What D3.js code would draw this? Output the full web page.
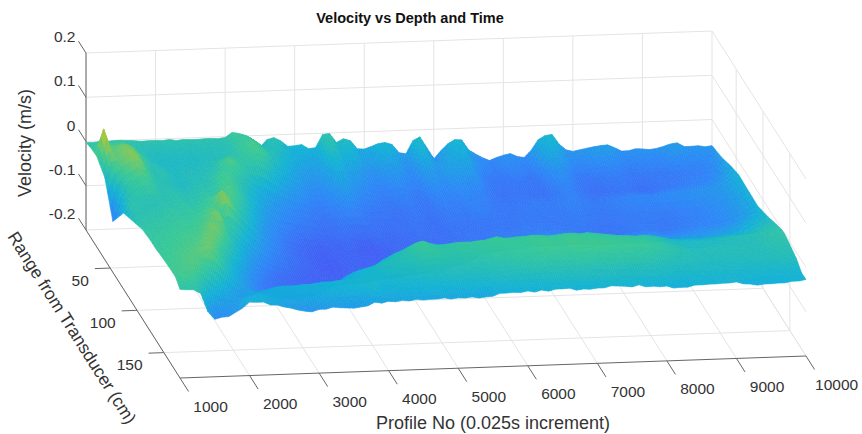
<!DOCTYPE html>
<html lang="en">
    <head>
        <meta charset="utf-8">
        <title>Velocity vs Depth and Time</title>
        <script type="text/javascript" src="https://d3js.org/d3.v7.min.js"></script>
        <style type="text/css">
            body { margin: 0; background: #fff; }
            text { font-family: "Liberation Sans", Arial, sans-serif; fill: #333; }
        </style>
    </head>
    <body>
        <script type="text/javascript">

            //Width and height
            var w = 862;
            var h = 434;

            var profileTicks = [1000, 2000, 3000, 4000, 5000, 6000, 7000, 8000, 9000, 10000];
            var rangeTicks = [50, 100, 150];
            var velocityTicks = [-0.2, -0.1, 0, 0.1, 0.2];

            //Profile numbers of the surface columns
            var profiles = [];
            for (var p = 1000; p <= 10000; p += 100) profiles.push(p);

            //Range (cm) of the surface rows
            var ranges = [5, 15, 25, 40, 55, 75, 90, 110, 125, 135, 140, 150, 162, 172, 180];

            //Velocity in mm/s: one line per range, one value per profile
            var velocity = [
                [-2,-3,-1,-2,0,0,-1,-2,-4,-3, -3,-4,-2,-5,-3,-4,-4,-3,-3,-4, -2,9,6,1,-9,-27,-10,-6,-14,-27, -26,-24,-34,-32,-3,-1,-22,-14,-19,-38, -39,-34,-28,-26,-31,-50,-53,-24,-16,-41, -67,-49,-34,-25,-26,-49,-59,-68,-75,-69, -64,-61,-68,-71,-55,-32,-23,-21,-43,-57, -61,-58,-55,-52,-50,-49,-56,-64,-64,-60, -61,-63,-61,-57,-52,-50,-59,-59,-58,-61,-59],
                [3,8,12,10,12,8,-5,-8,-12,-14, -15,-14,-16,-13,-15,-14,-13,-12,-11,-10, -6,5,8,12,2,-10,-12,-18,-25,-34, -38,-40,-44,-38,-12,-10,-30,-28,-34,-50, -54,-48,-44,-42,-48,-62,-64,-38,-30,-52, -58,-46,-40,-34,-36,-60,-70,-76,-80,-76, -73,-72,-76,-78,-66,-48,-40,-42,-58,-70, -73,-72,-70,-68,-68,-66,-72,-76,-76,-74, -74,-76,-75,-72,-70,-69,-72,-72,-70,-68,-55],
                [5,66,20,25,30,25,10,-2,-14,-18, -20,-18,-20,-18,-17,-16,-15,-14,-10,-6, -2,8,15,18,8,-8,-15,-28,-38,-48, -52,-55,-52,-44,-30,-32,-46,-50,-55,-66, -70,-66,-62,-60,-66,-74,-72,-55,-50,-62, -52,-48,-50,-50,-54,-72,-80,-84,-86,-84, -84,-84,-86,-86,-80,-70,-62,-64,-74,-82, -84,-85,-84,-82,-82,-80,-83,-85,-86,-85, -84,-85,-85,-83,-82,-80,-80,-78,-74,-68,-50],
                [-15,20,22,35,40,30,5,-8,-5,-10, -18,-15,-12,-14,-12,-10,-5,10,22,10, 2,-2,0,-8,-20,-35,-45,-52,-60,-68, -72,-70,-66,-60,-52,-55,-64,-70,-74,-78, -80,-80,-78,-76,-80,-84,-82,-72,-70,-74, -72,-68,-72,-74,-74,-82,-86,-88,-88,-86, -88,-88,-88,-90,-86,-82,-78,-78,-84,-88, -90,-90,-90,-88,-88,-86,-88,-90,-90,-88, -86,-84,-82,-80,-78,-76,-74,-72,-66,-55,-38],
                [-85,-30,5,8,18,10,-2,-8,-10,-14, -16,-14,-10,-8,-5,5,15,10,-2,-12, -22,-35,-45,-55,-60,-66,-72,-74,-78,-82, -84,-82,-78,-74,-72,-76,-82,-84,-84,-86, -88,-88,-86,-84,-86,-88,-86,-82,-80,-80, -82,-78,-76,-78,-80,-84,-84,-85,-84,-82, -82,-80,-80,-82,-80,-78,-76,-78,-80,-82, -82,-80,-78,-76,-74,-73,-72,-72,-72,-70, -68,-66,-65,-64,-62,-62,-60,-58,-52,-42,-30],
                [-28,0,-8,-8,-10,-6,-8,-4,-2,-6, -4,0,4,2,8,20,12,-2,-18,-35, -50,-62,-70,-76,-82,-86,-88,-90,-92,-94, -92,-90,-90,-92,-94,-92,-90,-92,-94,-92, -92,-90,-88,-88,-90,-92,-90,-88,-88,-86, -88,-86,-86,-86,-85,-86,-86,-84,-84,-84, -84,-85,-85,-84,-84,-82,-82,-84,-84,-85, -85,-84,-84,-83,-83,-82,-82,-84,-84,-83, -82,-80,-78,-76,-74,-70,-66,-62,-54,-44,-32],
                [-15,-4,-6,-2,-4,0,2,0,4,2, 6,10,18,45,30,8,-8,-25,-42,-58, -68,-76,-84,-90,-94,-98,-100,-102,-102,-100, -100,-98,-100,-104,-106,-104,-100,-98,-96,-96, -96,-94,-94,-92,-92,-90,-90,-88,-88,-86, -86,-86,-84,-84,-82,-82,-82,-80,-80,-78, -78,-80,-80,-82,-84,-86,-86,-88,-88,-88, -88,-86,-84,-82,-80,-82,-84,-84,-82,-80, -78,-76,-74,-74,-72,-70,-66,-60,-52,-44,-33],
                [2,2,4,4,6,6,10,8,12,16, 25,35,5,-5,-20,-35,-50,-62,-72,-80, -84,-90,-92,-96,-98,-102,-104,-106,-104,-102, -100,-100,-102,-100,-98,-100,-100,-98,-96,-94, -94,-92,-92,-90,-88,-86,-84,-84,-82,-80, -78,-76,-74,-72,-68,-66,-64,-62,-60,-58, -58,-58,-60,-60,-62,-62,-62,-60,-60,-60, -58,-58,-58,-60,-60,-60,-60,-60,-60,-58, -58,-56,-54,-52,-50,-46,-42,-36,-30,-24,-20],
                [6,8,8,10,12,14,14,16,22,35, 25,5,-15,-32,-50,-66,-78,-84,-90,-94, -96,-98,-100,-102,-102,-100,-100,-102,-100,-98, -98,-98,-96,-94,-94,-92,-92,-90,-88,-86, -86,-84,-82,-80,-76,-72,-66,-58,-48,-42, -40,-38,-38,-36,-36,-36,-38,-38,-38,-36, -36,-36,-38,-38,-40,-40,-40,-40,-38,-38, -38,-38,-38,-38,-36,-36,-34,-34,-34,-36, -36,-36,-34,-32,-30,-28,-24,-18,-14,-10,-8],
                [6,8,10,12,14,16,18,24,30,18, 0,-20,-38,-54,-68,-78,-86,-90,-92,-94, -96,-96,-94,-94,-92,-90,-90,-88,-88,-88, -86,-84,-82,-80,-80,-78,-76,-74,-72,-70, -66,-60,-50,-38,-25,-18,-10,-2,2,6, 2,2,4,4,6,6,4,4,6,8, 8,6,8,6,4,2,0,-2,-2,-4, -2,-4,-6,-10,-14,-16,-18,-18,-18,-16, -14,-14,-12,-10,-10,-8,-8,-6,-4,-2,-1],
                [8,10,12,14,16,18,20,30,22,4, -14,-32,-48,-62,-74,-82,-88,-88,-90,-90, -88,-86,-84,-84,-82,-80,-78,-76,-72,-66, -56,-42,-30,-22,-14,-8,0,8,12,6, 2,2,4,6,6,6,8,8,10,10, 10,10,10,12,12,12,10,10,12,12, 12,10,10,8,8,8,6,6,4,4, 2,0,-4,-10,-14,-18,-20,-20,-20,-18, -18,-16,-16,-14,-14,-12,-10,-6,-2,0,0],
                [10,12,14,18,20,22,30,26,8,-14, -32,-46,-58,-68,-76,-82,-86,-88,-88,-88, -86,-84,-80,-76,-66,-55,-44,-36,-30,-26, -22,-16,-12,-10,-8,-6,-2,2,6,4, 2,0,0,2,2,4,4,4,6,6, 8,8,8,10,12,14,14,12,14,16, 14,14,16,14,14,12,14,12,10,12, 8,6,2,-2,-6,-8,-10,-12,-10,-10, -10,-10,-10,-10,-10,-10,-10,-8,-7,-6,-6],
                [12,14,16,20,18,8,-8,-24,-38,-50, -56,-54,-50,-46,-42,-38,-36,-36,-36,-34, -34,-32,-30,-30,-28,-28,-26,-24,-22,-22, -24,-22,-20,-20,-18,-18,-16,-14,-14,-12, -12,-12,-12,-10,-10,-10,-8,-6,-6,-4, -2,0,0,0,2,2,2,2,2,4, 4,2,2,2,2,0,0,0,-2,-2, -6,-8,-10,-12,-12,-12,-14,-16,-16,-16, -16,-16,-16,-16,-16,-16,-16,-14,-12,-12,-14],
                [12,14,14,8,-16,-38,-50,-58,-56,-48, -40,-34,-32,-34,-36,-38,-40,-38,-36,-38, -38,-36,-34,-32,-32,-30,-30,-28,-26,-24, -34,-32,-32,-30,-30,-31,-28,-28,-29,-28, -26,-27,-26,-26,-24,-24,-22,-23,-22,-20, -20,-21,-20,-18,-18,-19,-18,-18,-17,-18, -18,-18,-19,-18,-20,-20,-21,-20,-22,-22, -22,-22,-24,-24,-23,-24,-24,-25,-24,-24, -24,-25,-26,-26,-25,-26,-26,-27,-28,-28,-28],
                [0,-1,-2,-11,-52,-70,-66,-65,-56,-47, -34,-35,-35,-42,-43,-48,-51,-56,-59,-61, -56,-56,-52,-54,-55,-56,-54,-52,-44,-47, -43,-45,-42,-44,-41,-43,-42,-42,-40,-43, -41,-42,-40,-43,-41,-40,-34,-34,-33,-34, -31,-34,-30,-33,-29,-29,-28,-33,-31,-32, -30,-30,-26,-27,-28,-30,-26,-31,-30,-32, -31,-36,-35,-35,-31,-31,-30,-30,-29,-29, -27,-32,-33,-36,-34,-34,-33,-33,-30,-30,-27]
            ];

            //Parula colormap stops
            var parula = ["#3E26A8", "#4752F4", "#2D87F7", "#12B1D6", "#37C897", "#ABC739", "#FEC338", "#F9FB14"];

            //Axis scales run 0 to 1 along each edge of the box
            var xScale = d3.scaleLinear().domain([1000, 10000]).range([0, 1]);
            var rScale = d3.scaleLinear().domain([5, 180]).range([0, 1]);
            var zScale = d3.scaleLinear().domain([-0.2, 0.2]).range([0, 1]);

            var colors = d3.scaleLinear()
                           .domain(parula.map(function(c, i) { return -0.155 + 0.29 * i / (parula.length - 1); }))
                           .range(parula)
                           .clamp(true);

            //Orthographic view, screen position of a point in the box
            function project(x, r, z) {
                var u = xScale(x), v = rScale(r), t = zScale(z);
                return [86 + 626 * u + 94 * v, 230 - 22 * u + 148 * v - 177 * t];
            }

            var svg = d3.select("body")
                        .append("svg")
                        .attr("width", w)
                        .attr("height", h)
                        .style("display", "block");

            var soft = svg.append("defs").append("filter").attr("id", "soft");
            soft.append("feGaussianBlur").attr("stdDeviation", 0.45);

            function addLine(g, a, b) {
                g.append("line")
                 .attr("x1", a[0]).attr("y1", a[1])
                 .attr("x2", b[0]).attr("y2", b[1]);
            }

            //Grid on the floor and the two walls
            var grid = svg.append("g").attr("stroke", "#e4e4e4").attr("stroke-width", 1);
            profileTicks.forEach(function(x) {
                addLine(grid, project(x, 5, -0.2), project(x, 180, -0.2));
                addLine(grid, project(x, 5, -0.2), project(x, 5, 0.2));
            });
            rangeTicks.forEach(function(r) {
                addLine(grid, project(1000, r, -0.2), project(10000, r, -0.2));
                addLine(grid, project(10000, r, -0.2), project(10000, r, 0.2));
            });
            velocityTicks.forEach(function(z) {
                addLine(grid, project(1000, 5, z), project(10000, 5, z));
                addLine(grid, project(10000, 5, z), project(10000, 180, z));
            });

            //Axes and tick marks
            var axes = svg.append("g").attr("stroke", "#666").attr("stroke-width", 1);
            addLine(axes, project(1000, 5, -0.2), project(1000, 5, 0.2));
            addLine(axes, project(1000, 5, -0.2), project(1000, 180, -0.2));
            addLine(axes, project(1000, 180, -0.2), project(10000, 180, -0.2));

            var labels = svg.append("g").attr("font-size", "15.5px");

            profileTicks.forEach(function(x) {
                var a = project(x, 180, -0.2);
                var b = project(x, 180 + 16, -0.2);
                addLine(axes, a, b);
                labels.append("text").text(x)
                      .attr("x", b[0] + 22).attr("y", b[1] + 20)
                      .attr("text-anchor", "middle");
            });
            rangeTicks.forEach(function(r) {
                var a = project(1000, r, -0.2);
                var b = project(1000 - 220, r, -0.2);
                addLine(axes, a, b);
                labels.append("text").text(r)
                      .attr("x", b[0] - 6).attr("y", b[1] + 17)
                      .attr("text-anchor", "end");
            });
            velocityTicks.forEach(function(z) {
                var a = project(1000, 5, z);
                var b = project(1000, 5 - 14, z);
                addLine(axes, a, b);
                labels.append("text").text(z)
                      .attr("x", b[0] - 3).attr("y", b[1] + 1)
                      .attr("text-anchor", "end");
            });

            //Each grid cell is cut into smaller pieces so the colour runs smoothly across it
            var pieces = 3;

            function surfaceValue(i, j) {
                var i0 = Math.min(Math.floor(i), ranges.length - 2), j0 = Math.min(Math.floor(j), profiles.length - 2);
                var a = i - i0, b = j - j0;
                return ((1 - a) * (1 - b) * velocity[i0][j0] + (1 - a) * b * velocity[i0][j0 + 1]
                      + a * (1 - b) * velocity[i0 + 1][j0] + a * b * velocity[i0 + 1][j0 + 1]) / 1000;
            }

            function surfacePoint(i, j) {
                var i0 = Math.min(Math.floor(i), ranges.length - 2), j0 = Math.min(Math.floor(j), profiles.length - 2);
                var r = ranges[i0] + (i - i0) * (ranges[i0 + 1] - ranges[i0]);
                var x = profiles[j0] + (j - j0) * (profiles[j0 + 1] - profiles[j0]);
                return project(x, r, surfaceValue(i, j));
            }

            //Surface, painted from the far side to the near side
            var cells = [];
            for (var i = 0; i < (ranges.length - 1) * pieces; i++) {
                for (var j = (profiles.length - 1) * pieces - 1; j >= 0; j--) {
                    cells.push({i: i / pieces, j: j / pieces});
                }
            }

            svg.append("g")
               .attr("filter", "url(#soft)")
               .selectAll("path")
               .data(cells)
               .enter()
               .append("path")
               .attr("d", function(d) {
                    var s = 1 / pieces;
                    return "M" + [surfacePoint(d.i, d.j), surfacePoint(d.i, d.j + s),
                                  surfacePoint(d.i + s, d.j + s), surfacePoint(d.i + s, d.j)].join("L") + "Z";
               })
               .each(function(d) {
                    var c = colors(surfaceValue(d.i + 0.5 / pieces, d.j + 0.5 / pieces));
                    d3.select(this).attr("fill", c).attr("stroke", c);
               })
               .attr("stroke-width", 0.6)
               .attr("stroke-linejoin", "round");

            //Titles
            svg.append("text")
               .text("Velocity vs Depth and Time")
               .attr("x", 410)
               .attr("y", 23)
               .attr("text-anchor", "middle")
               .attr("font-size", "14.5px")
               .attr("font-weight", "bold")
               .style("fill", "#111");

            svg.append("text")
               .text("Profile No (0.025s increment)")
               .attr("x", 493)
               .attr("y", 429)
               .attr("text-anchor", "middle")
               .attr("font-size", "18px");

            svg.append("text")
               .text("Range from Transducer (cm)")
               .attr("transform", "translate(67,331) rotate(57.6)")
               .attr("text-anchor", "middle")
               .attr("font-size", "17.5px");

            svg.append("text")
               .text("Velocity (m/s)")
               .attr("transform", "translate(31,143) rotate(-90)")
               .attr("text-anchor", "middle")
               .attr("font-size", "18px");

        </script>
    </body>
</html>
